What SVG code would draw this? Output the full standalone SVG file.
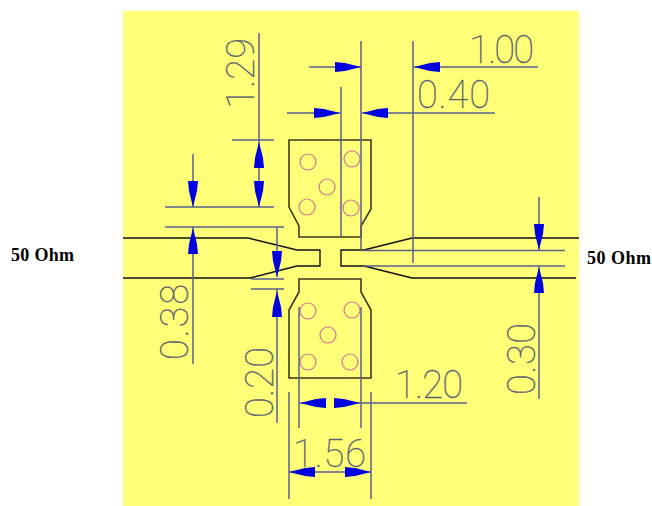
<svg xmlns="http://www.w3.org/2000/svg" width="652" height="506" viewBox="0 0 652 506">
<defs>
<style>
.o{fill:none;stroke:#3a3a20;stroke-width:1.6}
.b{fill:none;stroke:#10101a;stroke-width:1.4}
.d{fill:none;stroke:#5a6290;stroke-width:1.5}
.v{fill:none;stroke:#d8709a;stroke-width:1.2}
.a{fill:#0000e0}
.t{font-family:"Roboto","Liberation Sans",sans-serif;font-weight:100;font-size:38px;fill:#5a5f70;stroke:#5a5f70;stroke-width:.3}
.l{font-family:"Liberation Serif",serif;font-weight:bold;font-size:18px;fill:#000}
</style>
<path id="ah" class="a" d="M0 0L16 -4L26 -5L26 5L16 4Z"/>
</defs>
<rect width="652" height="506" fill="#fff"/>
<rect x="123" y="11" width="456" height="495" fill="#ffff78"/>
<g id="top-pad"><path class="o" d="M289 140H371V209L361 226V237H299V226L289 207Z"/>
<g class="v"><circle cx="308" cy="162" r="8"/><circle cx="327" cy="187" r="8"/><circle cx="307" cy="207" r="8"/><circle cx="352" cy="159" r="8"/><circle cx="351" cy="208" r="8"/></g></g>
<g id="bottom-pad"><path class="o" d="M299 279H361V292L371 310V378H289V310L299 292Z"/>
<g class="v"><circle cx="308" cy="311" r="8"/><circle cx="328" cy="335" r="8"/><circle cx="308" cy="362" r="8"/><circle cx="352" cy="310" r="8"/><circle cx="350" cy="362" r="8"/></g></g>
<g id="left-line"><path class="b" d="M123 238H248L297 250H320V266H297L250 278H123"/></g>
<g id="right-line"><path class="b" d="M579 238H412L364 250H341V266H364L412 278H576"/></g>
<g id="connectors">
<path class="d" d="M364 250.500H565M364 266H565M232 140H274M165 207H274M165 227H284M251 279H284M251 289H284"/>
<path class="d" d="M259 33V207M193 154V207M193 227V364M277 227V277M277 289V423M539 197V250M539 267V399"/>
<path class="d" d="M361 41V250M413 41V263M341 87V237M309 67H361M414 67H538M287 113H340M362 113H495"/>
<path class="d" d="M299 307V428M361 307V428M300 403H325M336 403H467M289 392V499M371 392V499M289 472H371"/>
<use href="#ah" transform="translate(259 142)rotate(90)"/>
<use href="#ah" transform="translate(259 207)rotate(-90)"/>
<use href="#ah" transform="translate(193 207)rotate(-90)"/>
<use href="#ah" transform="translate(193 228)rotate(90)"/>
<use href="#ah" transform="translate(277 277)rotate(-90)"/>
<use href="#ah" transform="translate(277 291)rotate(90)"/>
<use href="#ah" transform="translate(539 250)rotate(-90)"/>
<use href="#ah" transform="translate(539 267)rotate(90)"/>
<use href="#ah" transform="translate(361 67)rotate(180)"/>
<use href="#ah" transform="translate(414 67)"/>
<use href="#ah" transform="translate(340 113)rotate(180)"/>
<use href="#ah" transform="translate(362 113)"/>
<use href="#ah" transform="translate(300 403)"/>
<use href="#ah" transform="translate(360 403)rotate(180)"/>
<use href="#ah" transform="translate(289 472)"/>
<use href="#ah" transform="translate(371 472)rotate(180)"/>
</g>
<g id="labels">
<text class="t" x="469" y="63" textLength="65">1.00</text>
<text class="t" x="417" y="108" textLength="73">0.40</text>
<text class="t" x="395" y="398" textLength="68">1.20</text>
<text class="t" x="293" y="467" textLength="73">1.56</text>
<text class="t" transform="translate(254 109)rotate(-90)" textLength="71">1.29</text>
<text class="t" transform="translate(188 360)rotate(-90)" textLength="76">0.38</text>
<text class="t" transform="translate(273 418)rotate(-90)" textLength="71">0.20</text>
<text class="t" transform="translate(535 395)rotate(-90)" textLength="72">0.30</text>
<text class="l" x="11" y="261" textLength="63">50 Ohm</text>
<text class="l" x="587" y="264" textLength="64">50 Ohm</text>
</g>
</svg>
